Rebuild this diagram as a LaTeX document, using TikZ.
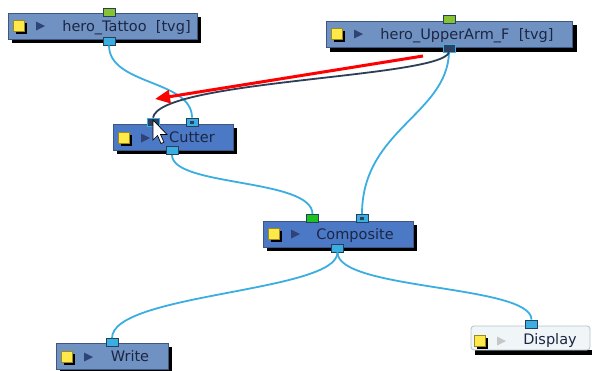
\documentclass[tikz,border=0pt]{standalone}
\usepackage{fontspec}
\newfontfamily\nf{DejaVu Sans}
\usetikzlibrary{arrows.meta}
\definecolor{boxlight}{HTML}{7092C2}
\definecolor{boxdark}{HTML}{4B79C6}
\definecolor{boxedge}{HTML}{3E5680}
\definecolor{txt}{HTML}{1C2642}
\definecolor{wire}{HTML}{3AAEE0}
\definecolor{darkwire}{HTML}{2C3E58}
\definecolor{portdark}{HTML}{2D4060}
\definecolor{portedge}{HTML}{23405E}
\definecolor{limeport}{HTML}{86C232}
\definecolor{greenport}{HTML}{1EC21E}
\definecolor{tri}{HTML}{2F4377}
\definecolor{yel}{HTML}{FFE84A}
\definecolor{yeledge}{HTML}{9A8A20}
\definecolor{dispfill}{HTML}{F0F6F8}
\definecolor{dispedge}{HTML}{B4C2CA}
\tikzset{
  nodebox/.style={draw=boxedge, line width=0.8, inner sep=0},
  lab/.style={font=\nf\fontsize{14.5}{16}\selectfont, text=txt, inner sep=0, anchor=base},
  port/.style={draw=portedge, line width=0.8, minimum width=12, minimum height=8, inner sep=0},
  cport/.style={port, fill=wire},
  wirestyle/.style={draw=wire, line width=1.8},
}
\newcommand\nodeicons[3]{% x of square, y top of square, triangle colour
  \fill[black] (#1+2.5,#2+2.5) rectangle ++(11,11);
  \filldraw[fill=yel, draw=yeledge, line width=0.6] (#1,#2) rectangle ++(11,11);
  \fill[#3] (#1+23,#2+1.5) -- ++(9,4.5) -- ++(-9,4.5) -- cycle;
}
\begin{document}
\begin{tikzpicture}[x=1pt,y=-1pt]
\useasboundingbox (0,0) rectangle (592,370);
\fill[white] (0,0) rectangle (592,370);

% shadows
\fill[black] (12,17) rectangle (201,43);
\fill[black] (330,25) rectangle (577,52);
\fill[black] (117,128) rectangle (237,153.5);
\fill[black] (267,225) rectangle (416.5,250.5);
\fill[black] (60,347) rectangle (172,373);
\fill[black] (475,350) rectangle (592,355);

% boxes
\node[nodebox, fill=boxlight, minimum width=189, minimum height=26] (tattoo) at (102.5,26) {};
\node[nodebox, fill=boxlight, minimum width=246, minimum height=26] (upper) at (449,34) {};
\node[nodebox, fill=boxdark, minimum width=120, minimum height=26] (cutter) at (173,137) {};
\node[nodebox, fill=boxdark, minimum width=150, minimum height=26] (comp) at (338,234) {};
\node[nodebox, fill=boxlight, minimum width=112, minimum height=26] (write) at (112,356) {};
\node[draw=dispedge, fill=dispfill, rounded corners=3, line width=0.8, inner sep=0, minimum width=119, minimum height=24] (disp) at (530.5,338) {};

% icons
\nodeicons{13}{20}{tri}
\nodeicons{331}{28}{tri}
\nodeicons{118}{132}{tri}
\nodeicons{268}{228}{tri}
\nodeicons{61}{351}{tri}
\nodeicons{474}{335}{gray!45}

% labels
\node[lab] (tattooT) at (126.5,31.5) {hero\_Tattoo\ \ [tvg]};
\node[lab] (upperT) at (467,39.5) {hero\_UpperArm\_F\ \ [tvg]};
\node[lab] (cutterT) at (192,142.5) {Cutter};
\node[lab] (compT) at (355,239.5) {Composite};
\node[lab] (writeT) at (130,361.5) {Write};
\node[lab] (dispT) at (550,344.5) {Display};

% ports
\node[port, fill=limeport] (tattooIn) at (109,12) {};
\node[cport] (tattooOut) at (109,41) {};
\node[port, fill=limeport] (upperIn) at (449,19) {};
\node[port, draw=wire, fill=portdark] (upperOut) at (449,48) {};
\node[port, draw=wire, fill=portdark] (cutIn1) at (153,122) {};
\node[cport] (cutIn2) at (192,122) {};
\fill[portdark] (cutIn2.center) ++(-2,-1.5) rectangle ++(4,3);
\node[cport] (cutOut) at (172,150.5) {};
\node[port, fill=greenport] (compIn1) at (312.5,218.5) {};
\node[cport] (compIn2) at (362,218.5) {};
\fill[portdark] (compIn2.center) ++(-2,-1.5) rectangle ++(4,3);
\node[cport] (compOut) at (337.5,248) {};
\node[cport] (writeIn) at (112,342.5) {};
\node[cport] (dispIn) at (531.5,324) {};

% connectors
\draw[wirestyle] (tattooOut.south) .. controls +(0,40) and +(0,-38) .. (cutIn2.north);
\draw[wirestyle] (upperOut.south) .. controls +(-2,62) and +(0,-84) .. (compIn2.north);
\draw[wirestyle] (cutOut.south) .. controls +(0,32) and +(0,-36) .. (compIn1.north);
\draw[wirestyle] (compOut.south) .. controls +(0,40) and +(0,-45) .. (writeIn.north);
\draw[wirestyle] (compOut.south) .. controls +(0,38) and +(0,-35) .. (dispIn.north);
\draw[draw=darkwire, line width=1.8] (upperOut.south) .. controls (440,78) and (160,80) .. (cutIn1.north);

% red arrow
\coordinate (redS) at (423,56);
\coordinate (redE) at (155,99);
\draw[draw=red, line width=3, -{Triangle[length=15,width=13]}] (redS) -- (redE);

% mouse cursor
\filldraw[fill=white, draw=black, line width=0.7, line join=miter]
  (153,120) -- ++(0,20) -- ++(4.5,-4.5) -- ++(3.5,8) -- ++(3,-1.3) -- ++(-3.5,-7.7) -- ++(6.5,0) -- cycle;
\end{tikzpicture}
\end{document}
